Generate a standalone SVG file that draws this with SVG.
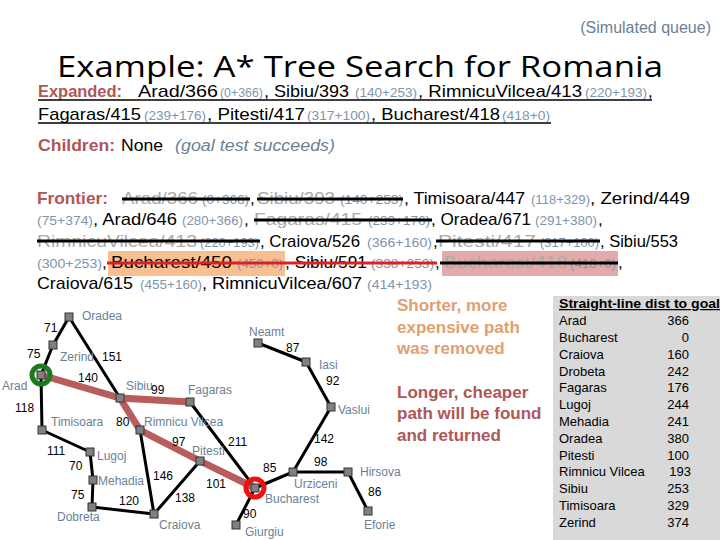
<svg xmlns="http://www.w3.org/2000/svg" width="720" height="540" viewBox="0 0 720 540">
<style>
text{font-family:"Liberation Sans",Arial,sans-serif}
.t{font-size:17px;fill:#000}
.s{font-size:17px;fill:#aaaaaa}
.g{font-size:12.5px;fill:#7f95ad}
.lab{font-size:17px;font-weight:bold;fill:#b05656}
.city{font-size:12px;fill:#6a7f95}
.num{font-size:12px;fill:#000}
.e{stroke:#000;stroke-width:3;fill:none}
.p{stroke:#b85c5c;stroke-width:7;fill:none;stroke-linecap:round}
.n{fill:#808080;stroke:#333;stroke-width:1}
.st{stroke:#000;stroke-width:3}
.ul{stroke:#000;stroke-width:1.5}
.tb{font-size:13px;fill:#000}
</style>
<rect width="720" height="540" fill="#fff"/>
<text x="711" y="33" text-anchor="end" style="font-size:16px;fill:#6a7f95">(Simulated queue)</text>
<text x="57" y="77" style="font-family:'Open Sans','Liberation Sans',sans-serif;font-size:30px" textLength="606" lengthAdjust="spacingAndGlyphs">Example: A* Tree Search for Romania</text>

<g id="expanded">
<text class="lab" x="38" y="97" textLength="84" lengthAdjust="spacingAndGlyphs">Expanded:</text>
<text class="t" x="138" y="97" textLength="80" lengthAdjust="spacingAndGlyphs">Arad/366</text>
<text class="g" x="220" y="97" textLength="43" lengthAdjust="spacingAndGlyphs">(0+366)</text>
<text class="t" x="264" y="97" textLength="85" lengthAdjust="spacingAndGlyphs">, Sibiu/393</text>
<text class="g" x="355" y="97" textLength="62" lengthAdjust="spacingAndGlyphs">(140+253)</text>
<text class="t" x="418" y="97" textLength="164" lengthAdjust="spacingAndGlyphs">, RimnicuVilcea/413</text>
<text class="g" x="585" y="97" textLength="62" lengthAdjust="spacingAndGlyphs">(220+193)</text>
<text class="t" x="648" y="97">,</text>
<line class="ul" x1="38" y1="100" x2="123" y2="100" stroke="#b05656"/>
<line class="ul" x1="123" y1="100" x2="652" y2="100"/>
<text class="t" x="38" y="120" textLength="103" lengthAdjust="spacingAndGlyphs">Fagaras/415</text>
<text class="g" x="144" y="120" textLength="62" lengthAdjust="spacingAndGlyphs">(239+176)</text>
<text class="t" x="207" y="120" textLength="98" lengthAdjust="spacingAndGlyphs">, Pitesti/417</text>
<text class="g" x="307" y="120" textLength="63" lengthAdjust="spacingAndGlyphs">(317+100)</text>
<text class="t" x="371" y="120" textLength="129" lengthAdjust="spacingAndGlyphs">, Bucharest/418</text>
<text class="g" x="502" y="120" textLength="48" lengthAdjust="spacingAndGlyphs">(418+0)</text>
<line class="ul" x1="38" y1="123" x2="551" y2="123"/>
<text class="lab" x="38" y="151" textLength="77" lengthAdjust="spacingAndGlyphs">Children:</text>
<text class="t" x="121" y="151" textLength="42" lengthAdjust="spacingAndGlyphs">None</text>
<text x="175" y="151" style="font-size:16px;fill:#6a7f95;font-style:italic" textLength="160" lengthAdjust="spacingAndGlyphs">(goal test succeeds)</text>
</g>

<g id="frontier">
<rect x="108" y="251" width="177" height="25" fill="#f8c090"/>
<rect x="442" y="251" width="176" height="25" fill="#e4aaaa"/>
<text class="lab" x="37" y="204" textLength="71" lengthAdjust="spacingAndGlyphs">Frontier:</text>
<text class="s" x="122" y="204" textLength="76" lengthAdjust="spacingAndGlyphs">Arad/366</text>
<text class="g" x="202" y="204" textLength="47" lengthAdjust="spacingAndGlyphs">(0+366)</text>
<text class="t" x="250" y="204">,</text>
<text class="s" x="257" y="204" textLength="78" lengthAdjust="spacingAndGlyphs">Sibiu/393</text>
<text class="g" x="340" y="204" textLength="63" lengthAdjust="spacingAndGlyphs">(140+253)</text>
<text class="t" x="404" y="204" textLength="121" lengthAdjust="spacingAndGlyphs">, Timisoara/447</text>
<text class="g" x="531" y="204" textLength="59" lengthAdjust="spacingAndGlyphs">(118+329)</text>
<text class="t" x="590" y="204" textLength="100" lengthAdjust="spacingAndGlyphs">, Zerind/449</text>
<line class="st" x1="122" y1="199" x2="250" y2="199"/>
<line class="st" x1="257" y1="199" x2="403" y2="199"/>

<text class="g" x="37" y="225" textLength="56" lengthAdjust="spacingAndGlyphs">(75+374)</text>
<text class="t" x="93" y="225" textLength="84" lengthAdjust="spacingAndGlyphs">, Arad/646</text>
<text class="g" x="182" y="225" textLength="61" lengthAdjust="spacingAndGlyphs">(280+366)</text>
<text class="t" x="244" y="225">,</text>
<text class="s" x="254" y="225" textLength="108" lengthAdjust="spacingAndGlyphs">Fagaras/415</text>
<text class="g" x="368" y="225" textLength="62" lengthAdjust="spacingAndGlyphs">(239+176)</text>
<text class="t" x="431" y="225" textLength="100" lengthAdjust="spacingAndGlyphs">, Oradea/671</text>
<text class="g" x="535" y="225" textLength="62" lengthAdjust="spacingAndGlyphs">(291+380)</text>
<text class="t" x="598" y="225">,</text>
<line class="st" x1="254" y1="220" x2="432" y2="220"/>

<text class="s" x="37" y="247" textLength="160" lengthAdjust="spacingAndGlyphs">RimnicuVilcea/413</text>
<text class="g" x="200" y="247" textLength="59" lengthAdjust="spacingAndGlyphs">(220+193)</text>
<text class="t" x="260" y="247" textLength="100" lengthAdjust="spacingAndGlyphs">, Craiova/526</text>
<text class="g" x="367" y="247" textLength="65" lengthAdjust="spacingAndGlyphs">(366+160)</text>
<text class="t" x="433" y="247">,</text>
<text class="s" x="438" y="247" textLength="98" lengthAdjust="spacingAndGlyphs">Pitesti/417</text>
<text class="g" x="540" y="247" textLength="59" lengthAdjust="spacingAndGlyphs">(317+100)</text>
<text class="t" x="600" y="247" textLength="78" lengthAdjust="spacingAndGlyphs">, Sibiu/553</text>
<line class="st" x1="37" y1="241" x2="260" y2="241"/>
<line class="st" x1="436" y1="241" x2="600" y2="241"/>

<text class="g" x="37" y="268" textLength="65" lengthAdjust="spacingAndGlyphs">(300+253)</text>
<text class="t" x="102" y="268">,</text>
<text class="t" x="111" y="268" textLength="121" lengthAdjust="spacingAndGlyphs">Bucharest/450</text>
<text class="g" x="237" y="268" textLength="46" lengthAdjust="spacingAndGlyphs">(450+0)</text>
<text class="t" x="285" y="268" textLength="82" lengthAdjust="spacingAndGlyphs">, Sibiu/591</text>
<text class="g" x="371" y="268" textLength="63" lengthAdjust="spacingAndGlyphs">(338+253)</text>
<text class="t" x="435" y="268">,</text>
<text class="s" x="444" y="268" textLength="123" lengthAdjust="spacingAndGlyphs">Bucharest/418</text>
<text class="g" x="570" y="268" textLength="46" lengthAdjust="spacingAndGlyphs">(418+0)</text>
<text class="t" x="618" y="268">,</text>
<line stroke="#e02020" stroke-width="3" x1="107" y1="263" x2="437" y2="263"/>
<line class="st" x1="440" y1="263" x2="618" y2="263"/>

<text class="t" x="37" y="289" textLength="96" lengthAdjust="spacingAndGlyphs">Craiova/615</text>
<text class="g" x="140" y="289" textLength="62" lengthAdjust="spacingAndGlyphs">(455+160)</text>
<text class="t" x="202" y="289" textLength="160" lengthAdjust="spacingAndGlyphs">, RimnicuVilcea/607</text>
<text class="g" x="367" y="289" textLength="65" lengthAdjust="spacingAndGlyphs">(414+193)</text>
</g>

<g id="connectors">
<line class="e" x1="69" y1="317" x2="53" y2="345"/>
<line class="e" x1="53" y1="345" x2="41" y2="375"/>
<line class="e" x1="69" y1="317" x2="120" y2="398"/>
<line class="e" x1="41" y1="375" x2="42" y2="430"/>
<line class="e" x1="42" y1="430" x2="90" y2="452"/>
<line class="e" x1="90" y1="452" x2="93" y2="480"/>
<line class="e" x1="93" y1="480" x2="92" y2="507"/>
<line class="e" x1="92" y1="507" x2="154" y2="514"/>
<line class="e" x1="140" y1="430" x2="154" y2="514"/>
<line class="e" x1="154" y1="514" x2="200" y2="461"/>
<line class="e" x1="190" y1="402" x2="255" y2="488"/>
<line class="e" x1="255" y1="488" x2="236" y2="525"/>
<line class="e" x1="255" y1="488" x2="293" y2="472"/>
<line class="e" x1="293" y1="472" x2="348" y2="472"/>
<line class="e" x1="348" y1="472" x2="368" y2="511"/>
<line class="e" x1="293" y1="472" x2="331" y2="407"/>
<line class="e" x1="331" y1="407" x2="306" y2="362"/>
<line class="e" x1="306" y1="362" x2="258" y2="343"/>
<polyline class="p" points="41,375 120,398 190,402"/>
<polyline class="p" points="120,398 140,430 200,461 255,488"/>
</g>

<g id="nodes">
<g id="n-arad"><circle cx="41" cy="375" r="9" fill="none" stroke="#1e7a1e" stroke-width="5"/><rect class="n" x="37" y="371" width="8" height="8"/><text class="city" x="2" y="390">Arad</text></g>
<g id="n-bucharest"><circle cx="255" cy="488" r="9" fill="none" stroke="#f01010" stroke-width="5"/><rect class="n" x="251" y="484" width="8" height="8"/><text class="city" x="265" y="503">Bucharest</text></g>
<g id="n-oradea"><rect class="n" x="65" y="313" width="8" height="8"/><text class="city" x="82" y="320">Oradea</text></g>
<g id="n-zerind"><rect class="n" x="49" y="341" width="8" height="8"/><text class="city" x="60" y="361">Zerind</text></g>
<g id="n-timisoara"><rect class="n" x="38" y="426" width="8" height="8"/><text class="city" x="51" y="426">Timisoara</text></g>
<g id="n-lugoj"><rect class="n" x="86" y="448" width="8" height="8"/><text class="city" x="97" y="460">Lugoj</text></g>
<g id="n-mehadia"><rect class="n" x="89" y="476" width="8" height="8"/><text class="city" x="98" y="485">Mehadia</text></g>
<g id="n-dobreta"><rect class="n" x="88" y="503" width="8" height="8"/><text class="city" x="57" y="521">Dobreta</text></g>
<g id="n-sibiu"><rect class="n" x="116" y="394" width="8" height="8"/><text class="city" x="126" y="390">Sibiu</text></g>
<g id="n-rimnicu"><rect class="n" x="136" y="426" width="8" height="8"/><text class="city" x="144" y="426">Rimnicu Vilcea</text></g>
<g id="n-fagaras"><rect class="n" x="186" y="398" width="8" height="8"/><text class="city" x="188" y="394">Fagaras</text></g>
<g id="n-pitesti"><rect class="n" x="196" y="457" width="8" height="8"/><text class="city" x="192" y="455">Pitesti</text></g>
<g id="n-craiova"><rect class="n" x="150" y="510" width="8" height="8"/><text class="city" x="159" y="529">Craiova</text></g>
<g id="n-giurgiu"><rect class="n" x="232" y="521" width="8" height="8"/><text class="city" x="245" y="536">Giurgiu</text></g>
<g id="n-urziceni"><rect class="n" x="289" y="468" width="8" height="8"/><text class="city" x="294" y="488">Urziceni</text></g>
<g id="n-hirsova"><rect class="n" x="344" y="468" width="8" height="8"/><text class="city" x="360" y="476">Hirsova</text></g>
<g id="n-eforie"><rect class="n" x="364" y="507" width="8" height="8"/><text class="city" x="364" y="529">Eforie</text></g>
<g id="n-vaslui"><rect class="n" x="327" y="403" width="8" height="8"/><text class="city" x="338" y="414">Vaslui</text></g>
<g id="n-iasi"><rect class="n" x="302" y="358" width="8" height="8"/><text class="city" x="319" y="369">Iasi</text></g>
<g id="n-neamt"><rect class="n" x="254" y="339" width="8" height="8"/><text class="city" x="249" y="336">Neamt</text></g>
</g>

<g id="edge-labels">
<text class="num" x="44" y="332">71</text>
<text class="num" x="27" y="358">75</text>
<text class="num" x="102" y="361">151</text>
<text class="num" x="78" y="382">140</text>
<text class="num" x="15" y="412">118</text>
<text class="num" x="151" y="394">99</text>
<text class="num" x="116" y="426">80</text>
<text class="num" x="172" y="446">97</text>
<text class="num" x="228" y="446">211</text>
<text class="num" x="47" y="455">111</text>
<text class="num" x="69" y="470">70</text>
<text class="num" x="153" y="480">146</text>
<text class="num" x="206" y="488">101</text>
<text class="num" x="71" y="499">75</text>
<text class="num" x="119" y="505">120</text>
<text class="num" x="175" y="502">138</text>
<text class="num" x="243" y="518">90</text>
<text class="num" x="263" y="472">85</text>
<text class="num" x="314" y="466">98</text>
<text class="num" x="368" y="496">86</text>
<text class="num" x="314" y="443">142</text>
<text class="num" x="326" y="385">92</text>
<text class="num" x="286" y="352">87</text>
</g>

<g id="notes" style="font-size:17px;font-weight:bold">
<text x="397" y="311" fill="#e0a070">Shorter, more</text>
<text x="397" y="333" fill="#e0a070">expensive path</text>
<text x="397" y="354" fill="#e0a070">was removed</text>
<text x="397" y="398" fill="#b05656">Longer, cheaper</text>
<text x="397" y="419" fill="#b05656">path will be found</text>
<text x="397" y="441" fill="#b05656">and returned</text>
</g>

<g id="table">
<rect x="553" y="296" width="167" height="244" fill="#d9d9d9"/>
<text x="559" y="308" style="font-size:12.5px;font-weight:bold" text-decoration="underline" textLength="161" lengthAdjust="spacingAndGlyphs">Straight-line dist to goal</text>
<text class="tb" x="559" y="325">Arad</text><text class="tb" x="689" y="325" text-anchor="end">366</text>
<text class="tb" x="559" y="342">Bucharest</text><text class="tb" x="689" y="342" text-anchor="end">0</text>
<text class="tb" x="559" y="359">Craiova</text><text class="tb" x="689" y="359" text-anchor="end">160</text>
<text class="tb" x="559" y="376">Drobeta</text><text class="tb" x="689" y="376" text-anchor="end">242</text>
<text class="tb" x="559" y="392">Fagaras</text><text class="tb" x="689" y="392" text-anchor="end">176</text>
<text class="tb" x="559" y="409">Lugoj</text><text class="tb" x="689" y="409" text-anchor="end">244</text>
<text class="tb" x="559" y="426">Mehadia</text><text class="tb" x="689" y="426" text-anchor="end">241</text>
<text class="tb" x="559" y="443">Oradea</text><text class="tb" x="689" y="443" text-anchor="end">380</text>
<text class="tb" x="559" y="460">Pitesti</text><text class="tb" x="689" y="460" text-anchor="end">100</text>
<text class="tb" x="559" y="476">Rimnicu Vilcea</text><text class="tb" x="691" y="476" text-anchor="end">193</text>
<text class="tb" x="559" y="493">Sibiu</text><text class="tb" x="689" y="493" text-anchor="end">253</text>
<text class="tb" x="559" y="510">Timisoara</text><text class="tb" x="689" y="510" text-anchor="end">329</text>
<text class="tb" x="559" y="527">Zerind</text><text class="tb" x="689" y="527" text-anchor="end">374</text>
</g>
</svg>
